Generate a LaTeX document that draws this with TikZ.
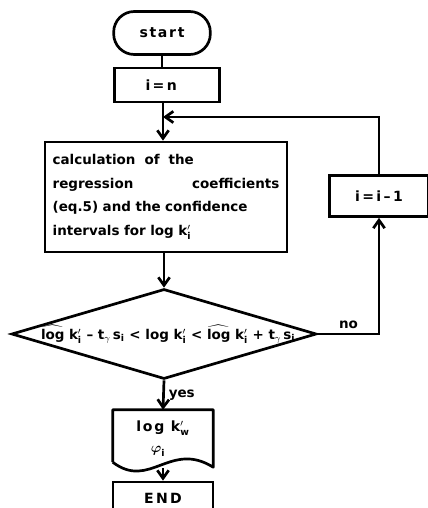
\documentclass[tikz,border=0pt]{standalone}
\usepackage{amsmath}
\usepackage{fontspec}
\setmainfont{DejaVu Sans}
\usetikzlibrary{arrows.meta, calc, shapes.geometric}

% small helpers for the formulas
\newcommand{\kpr}[1]{k\ensuremath{'_{\text{#1}}}}
\newcommand{\hlog}{\ensuremath{\widehat{\text{log}}}}
\newcommand{\tg}{t\ensuremath{_{\gamma}}}
\newcommand{\sdev}{s\ensuremath{_{\text{i}}}}

\begin{document}
\begin{tikzpicture}[x=0.03cm, y=-0.03cm,
    every node/.style={font=\bfseries\fontsize{11.5}{20}\selectfont},
    wide/.style={font=\bfseries\fontsize{12}{14}\selectfont\addfontfeature{LetterSpace=12}},
    box/.style={draw, line width=2.3pt, rectangle, inner sep=0pt},
    flow/.style={line width=2.3pt, -{Straight Barb[length=2.4mm, width=3.4mm]}},
    link/.style={line width=2.3pt}]
      \useasboundingbox (0,0) rectangle (428,508);
      \clip (0,0) rectangle (428,508);

      % Stage 1: start and counter
      \node[box, wide, rounded corners=0.62cm, minimum width=2.9cm, minimum height=1.29cm]
        (start) at (162,33) {start};
      \node[box, wide, minimum width=3.15cm, minimum height=1.02cm] (init) at (167,85)
        {\hspace*{-0.35cm}i\,=\,n};
      \draw[link] (start.south) -- (start.south |- init.north);

      % Stage 2: regression block
      \node[box, minimum width=7.26cm, minimum height=3.3cm, text width=6.8cm, align=left]
        (calc) at (166,197) {calculation \ of \ the\\
        regression \hfill coefficients\\
        (eq.5) and the confidence\\
        intervals for log \kpr{i}};
      \coordinate (merge) at (163,117);
      \draw[flow] (init.south -| merge) -- (calc.north -| merge);

      % Stage 3: test on the confidence interval
      \node[diamond, draw, line width=2.3pt, inner sep=0pt, aspect=3.4,
        minimum width=9.15cm, minimum height=2.7cm] (test) at (164,334)
        {\makebox[0pt]{\hspace{0.25cm}\hlog\,\,\kpr{i} -- \tg\,\sdev\ < log \kpr{i} < \hlog\,\,\kpr{i} + \tg\,\sdev}};
      \draw[flow] (calc.south -| test.north) -- (test.north);

      % Stage 4: loop back with i = i-1
      \node[box, wide, minimum width=2.95cm, minimum height=1.23cm] (dec) at (379,196)
        {i\,=\,i\,--\,1};
      \draw[flow] (test.east) -| node[pos=0.25, above] {no} (dec.south);
      \draw[flow] (dec.north) |- (merge);

      % Stage 5: output document and end
      \node[wide, minimum width=3cm, minimum height=1.71cm, inner sep=0pt, align=center]
        (out) at (163,438.5) {log \kpr{w}\\[4pt]\hspace*{-0.3cm}$\boldsymbol{\varphi}_{\text{i}}$};
      \draw[line width=2.3pt, line join=round] ($(out.south west)+(0,-5)$) -- (out.north west)
        -- (out.north east) -- (out.south east)
        .. controls ($(out.south east)+(-43,-27)$) and ($(out.south west)+(37,23)$)
        .. ($(out.south west)+(0,-5)$);
      \draw[flow] (test.south) -- node[right] {yes} (out.north);

      \node[box, wide, minimum width=3cm, minimum height=0.96cm] (stop) at (163,498) {E\,N\,D};
      \coordinate (wave) at (163,468);
      \draw[flow] (wave) -- (stop.north);
\end{tikzpicture}
\end{document}
